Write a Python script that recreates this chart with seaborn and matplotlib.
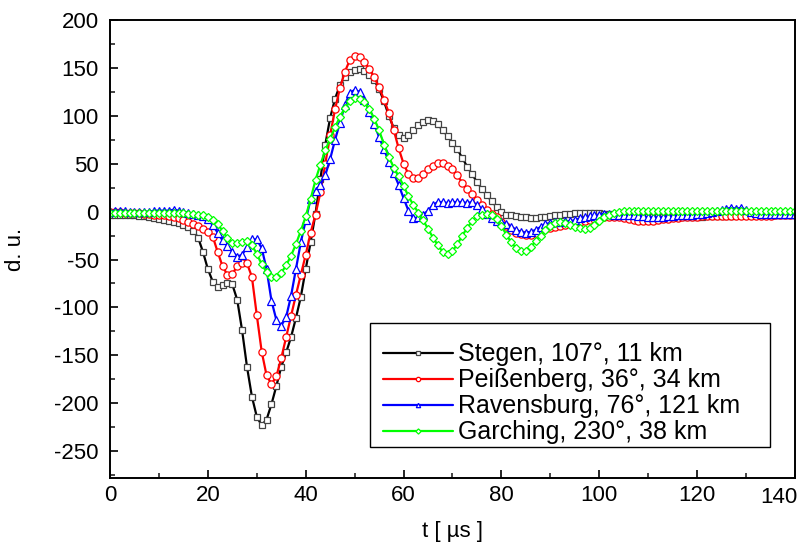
import matplotlib
matplotlib.use("Agg")
import matplotlib.pyplot as plt
import matplotlib.patches as mpatches
import seaborn as sns
import numpy as np
from matplotlib.ticker import MultipleLocator, FuncFormatter

t = list(range(0, 141))

stegen = [-3, -3, -3, -4, -4, -4, -5, -5, -6, -7,
          -8, -9, -10, -11, -12, -14, -16, -20, -27, -42,
          -60, -73, -79, -77, -74, -76, -92, -124, -162, -193,
          -214, -223, -217, -201, -182, -162, -147, -131, -111, -89,
          -60, -32, -2, 34, 70, 98, 118, 132, 141, 146,
          148, 149, 147, 143, 137, 128, 115, 100, 87, 80,
          77, 80, 85, 90, 94, 96, 95, 91, 85, 79,
          72, 65, 56, 47, 39, 31, 24, 17, 11, 5,
          0, -3, -4, -5, -6, -6, -7, -7, -6, -6,
          -5, -4, -3, -2, -2, -1, -1, -1, -1, -1,
          -1, -2, -2, -3, -3, -4, -4, -5, -5, -6,
          -6, -6, -6, -6, -6, -6, -6, -6, -6, -6,
          -6, -6, -5, -5, -5, -5, -5, -5, -4, -4,
          -4, -4, -4, -4, -4, -4, -4, -4, -4, -4,
          -4]

peissenberg = [0, 0, 0, -1, -1, -1, -1, -2, -2, -3,
               -3, -4, -5, -6, -7, -9, -11, -13, -15, -18,
               -21, -26, -42, -57, -66, -65, -57, -54, -54, -68,
               -108, -146, -171, -180, -172, -153, -131, -109, -87, -66,
               -45, -22, -3, 20, 50, 80, 107, 129, 146, 158,
               162, 161, 156, 149, 140, 130, 117, 103, 85, 66,
               50, 39, 35, 35, 39, 44, 48, 51, 51, 48,
               44, 38, 30, 24, 18, 12, 7, 2, -2, -6,
               -11, -15, -19, -22, -23, -24, -24, -22, -20, -18,
               -17, -16, -15, -14, -13, -12, -11, -10, -9, -8,
               -7, -6, -6, -6, -6, -7, -8, -9, -10, -10,
               -10, -10, -9, -8, -8, -7, -7, -6, -6, -6,
               -6, -5, -5, -5, -5, -5, -5, -5, -5, -5,
               -5, -5, -5, -5, -5, -5, -4, -4, -4, -4,
               -4]

ravensburg = [0, 1, 1, 1, 0, 0, 0, 0, 0, 1,
              1, 1, 1, 2, 1, 0, -1, -2, -3, -5,
              -8, -14, -22, -30, -36, -42, -47, -45, -37, -29,
              -29, -38, -60, -93, -113, -119, -110, -88, -60, -32,
              -9, 13, 22, 28, 38, 55, 75, 93, 111, 124,
              127, 125, 117, 104, 91, 78, 65, 52, 40, 28,
              14, 1, -7, -6, -3, 1, 7, 10, 10, 9,
              10, 10, 10, 9, 10, 7, 3, -2, -7, -10,
              -11, -13, -16, -19, -21, -22, -21, -19, -16, -13,
              -12, -11, -11, -10, -10, -9, -7, -6, -5, -4,
              -3, -2, -2, -3, -3, -4, -4, -4, -5, -5,
              -6, -6, -6, -6, -5, -5, -4, -4, -3, -3,
              -2, -2, -1, 0, 1, 2, 3, 4, 3, 4,
              2, 0, -1, -2, -2, -2, -2, -2, -2, -2,
              -2]

garching = [-1, -1, -1, -1, -1, -1, -1, -1, -1, -1,
            -1, -1, -1, -1, -1, -1, -2, -2, -3, -4,
            -6, -9, -13, -20, -28, -33, -33, -32, -31, -35,
            -44, -55, -63, -68, -68, -64, -56, -46, -34, -20,
            -5, 13, 33, 49, 64, 76, 88, 99, 108, 115,
            119, 118, 114, 107, 97, 85, 70, 57, 46, 37,
            27, 16, 7, -1, -9, -18, -27, -35, -42, -44,
            -41, -34, -25, -17, -10, -5, -3, -2, -3, -8,
            -15, -24, -32, -38, -41, -41, -37, -31, -25, -19,
            -15, -12, -11, -12, -14, -16, -17, -18, -17, -14,
            -10, -6, -3, -1, 0, 1, 1, 1, 1, 1,
            1, 1, 1, 1, 1, 1, 1, 1, 1, 1,
            1, 1, 1, 1, 1, 1, 1, 1, 1, 1,
            1, 1, 1, 1, 1, 1, 1, 1, 1, 1,
            1]

labels = ["Stegen, 107°, 11 km", "Peißenberg, 36°, 34 km",
          "Ravensburg, 76°, 121 km", "Garching, 230°, 38 km"]
colors = ["#000000", "#ff0000", "#0000ff", "#00ff00"]
edgecolors = ["#444444", "#ff0000", "#0000ff", "#00ff00"]
markers = ["s", "o", "^", "D"]
msizes = [4.8, 5.2, 5.2, 4.4]

sns.set_theme(style="white")
plt.rcParams["font.family"] = ["Liberation Sans", "DejaVu Sans"]
plt.rcParams["axes.unicode_minus"] = False

fig = plt.figure(figsize=(7.99, 5.48), dpi=100)
ax = fig.add_axes([110/799, 70/548, 685/799, 458/548])

series = [stegen, peissenberg, ravensburg, garching]
for vals, lab, c, ec, m, ms in zip(series, labels, colors, edgecolors, markers, msizes):
    sns.lineplot(x=t, y=vals, ax=ax, color=c, linewidth=1.6, marker=m,
                 markersize=ms, markerfacecolor="white", markeredgecolor=ec,
                 markeredgewidth=0.9, label=lab)

ax.set_xlim(0, 140)
ax.set_ylim(-278, 200)
ax.xaxis.set_major_locator(MultipleLocator(20))
ax.xaxis.set_minor_locator(MultipleLocator(10))
ax.yaxis.set_major_locator(MultipleLocator(50))
ax.yaxis.set_minor_locator(MultipleLocator(25))
ax.xaxis.set_major_formatter(FuncFormatter(lambda v, p: "" if v >= 140 else f"{v:.0f}"))
ax.tick_params(axis="x", which="major", direction="in", length=6, width=1.2,
               labelsize=16, colors="black", bottom=True, top=False, pad=5)
ax.tick_params(axis="y", which="major", direction="in", length=6, width=1.2,
               labelsize=16, colors="black", left=True, right=False, pad=8)
ax.tick_params(axis="both", which="minor", direction="in", length=3.5, width=1.2,
               bottom=True, left=True, top=False, right=False)
for s in ax.spines.values():
    s.set_color("black")
    s.set_linewidth(1.4)

# last x tick label, right-aligned so it stays inside the figure
ax.annotate("140", xy=(140, 0), xycoords=("data", "axes fraction"),
            xytext=(1.5, -5 - 1.4), textcoords="offset points",
            ha="right", va="top", fontsize=16, color="black", annotation_clip=False)

ax.set_xlabel("t [ µs ]", fontsize=16, color="black", labelpad=11)
ax.set_ylabel("d. u.", fontsize=16, color="black", labelpad=20)

# legend frame drawn separately so the entries can sit where the reference has them
frame = mpatches.Rectangle((0.3796, 0.0677), 0.584, 0.2707, transform=ax.transAxes,
                           facecolor="white", edgecolor="black", linewidth=1.0, zorder=4)
ax.add_patch(frame)

leg = ax.legend(loc="lower left", bbox_to_anchor=(0.3796, 0.0677 - 10/458, 0.584, 0.27),
                mode="expand", fontsize=18,
                frameon=False, handlelength=2.8, handletextpad=0.2, labelspacing=0.08,
                borderpad=0.5, markerscale=0.6, borderaxespad=0)
leg.set_zorder(5)
for txt in leg.get_texts():
    txt.set_color("black")

fig.savefig("out.png", dpi=100)
